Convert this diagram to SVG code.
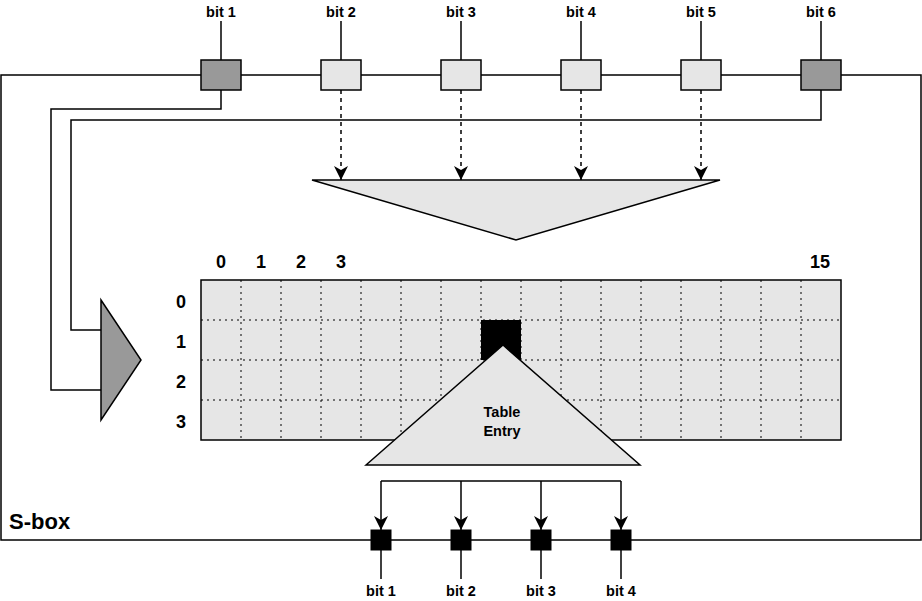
<svg xmlns="http://www.w3.org/2000/svg" width="922" height="601" viewBox="0 0 922 601">
<defs>
<marker id="arr" markerUnits="userSpaceOnUse" markerWidth="14" markerHeight="14" viewBox="0 0 12 12" refX="12" refY="6" orient="auto">
<path d="M0,0 L12,6 L0,12 L3.5,6 z" fill="#000"/>
</marker>
<style>
.t{font-family:"Liberation Sans",Arial,sans-serif;font-weight:bold;fill:#000;text-anchor:middle}
.ln{fill:none;stroke:#000;stroke-width:1.5}
.dash{fill:none;stroke:#000;stroke-width:1.5;stroke-dasharray:4 4}
.grid{fill:none;stroke:#000;stroke-width:1;stroke-dasharray:2 4}
.gray{fill:#999999;stroke:#000;stroke-width:1.5}
.light{fill:#E6E6E6;stroke:#000;stroke-width:1.5}
.blk{fill:#000;stroke:#000;stroke-width:1}
</style>
</defs>
<rect width="922" height="601" fill="#fff"/>
<g id="connectors">
<rect x="1" y="75" width="920" height="465" class="ln"/>
<line x1="221" y1="21" x2="221" y2="60" class="ln"/>
<line x1="341" y1="21" x2="341" y2="60" class="ln"/>
<line x1="461" y1="21" x2="461" y2="60" class="ln"/>
<line x1="581" y1="21" x2="581" y2="60" class="ln"/>
<line x1="701" y1="21" x2="701" y2="60" class="ln"/>
<line x1="821" y1="21" x2="821" y2="60" class="ln"/>
<path d="M221,90 V109 H51 V390 H101" class="ln"/>
<path d="M821,90 V120 H71 V330 H101" class="ln"/>
<path d="M341,90 V180" class="dash" marker-end="url(#arr)"/>
<path d="M461,90 V180" class="dash" marker-end="url(#arr)"/>
<path d="M581,90 V180" class="dash" marker-end="url(#arr)"/>
<path d="M701,90 V180" class="dash" marker-end="url(#arr)"/>
<path d="M381,481 H621" class="ln"/>
<path d="M381,481 V530" class="ln" marker-end="url(#arr)"/>
<path d="M461,481 V530" class="ln" marker-end="url(#arr)"/>
<path d="M541,481 V530" class="ln" marker-end="url(#arr)"/>
<path d="M621,481 V530" class="ln" marker-end="url(#arr)"/>
<line x1="381" y1="550" x2="381" y2="579" class="ln"/>
<line x1="461" y1="550" x2="461" y2="579" class="ln"/>
<line x1="541" y1="550" x2="541" y2="579" class="ln"/>
<line x1="621" y1="550" x2="621" y2="579" class="ln"/>
</g>
<g id="in-bit1"><rect x="201" y="60" width="40" height="30" class="gray"/><text x="221" y="17" class="t" font-size="14.5">bit 1</text></g>
<g id="in-bit2"><rect x="321" y="60" width="40" height="30" class="light"/><text x="341" y="17" class="t" font-size="14.5">bit 2</text></g>
<g id="in-bit3"><rect x="441" y="60" width="40" height="30" class="light"/><text x="461" y="17" class="t" font-size="14.5">bit 3</text></g>
<g id="in-bit4"><rect x="561" y="60" width="40" height="30" class="light"/><text x="581" y="17" class="t" font-size="14.5">bit 4</text></g>
<g id="in-bit5"><rect x="681" y="60" width="40" height="30" class="light"/><text x="701" y="17" class="t" font-size="14.5">bit 5</text></g>
<g id="in-bit6"><rect x="801" y="60" width="40" height="30" class="gray"/><text x="821" y="17" class="t" font-size="14.5">bit 6</text></g>
<g id="col-select"><polygon points="312,180 720,180 516,240" class="light"/></g>
<g id="row-select"><polygon points="101,300 141,360 101,420" class="gray"/></g>
<g id="table">
<rect x="201" y="280" width="640" height="160" fill="#E6E6E6" stroke="none"/>
<path class="grid" d="M241,280V440M281,280V440M321,280V440M361,280V440M401,280V440M441,280V440M481,280V440M521,280V440M561,280V440M601,280V440M641,280V440M681,280V440M721,280V440M761,280V440M801,280V440M201,320H841M201,360H841M201,400H841"/>
<rect x="201" y="280" width="640" height="160" fill="none" stroke="#000" stroke-width="1.5"/>
<rect x="481" y="320" width="40" height="40" fill="#000"/>
<g class="t" font-size="18">
<text x="221" y="268">0</text><text x="261" y="268">1</text><text x="301" y="268">2</text><text x="341" y="268">3</text><text x="820" y="268">15</text>
<text x="181" y="308">0</text><text x="181" y="348">1</text><text x="181" y="388">2</text><text x="181" y="428">3</text>
</g>
</g>
<g id="table-entry"><polygon points="366,465 503,345 640,465" class="light"/><text x="502" y="417" class="t" font-size="14.5">Table</text><text x="502" y="436" class="t" font-size="14.5">Entry</text></g>
<g id="out-bit1"><rect x="371" y="530" width="20" height="20" class="blk"/><text x="381" y="596" class="t" font-size="14.5">bit 1</text></g>
<g id="out-bit2"><rect x="451" y="530" width="20" height="20" class="blk"/><text x="461" y="596" class="t" font-size="14.5">bit 2</text></g>
<g id="out-bit3"><rect x="531" y="530" width="20" height="20" class="blk"/><text x="541" y="596" class="t" font-size="14.5">bit 3</text></g>
<g id="out-bit4"><rect x="611" y="530" width="20" height="20" class="blk"/><text x="621" y="596" class="t" font-size="14.5">bit 4</text></g>
<g id="sbox-label"><text x="9" y="529" font-family="Liberation Sans,Arial,sans-serif" font-weight="bold" font-size="22">S-box</text></g>
</svg>
